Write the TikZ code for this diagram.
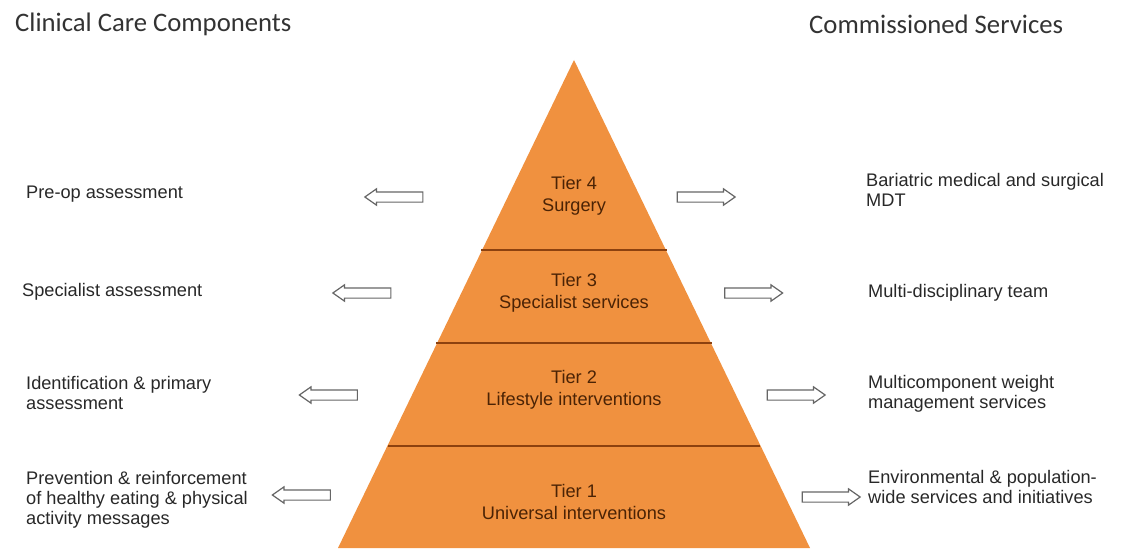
\documentclass[tikz,border=0pt]{standalone}
\usepackage{fontspec}
\setmainfont{Liberation Sans}
\newfontfamily\headfont{Carlito}
\usetikzlibrary{positioning, shapes.arrows}
\definecolor{pyrorange}{RGB}{240,145,63}
\definecolor{pyrline}{RGB}{140,65,15}
\definecolor{pyrtext}{RGB}{75,35,5}
\definecolor{sidegray}{RGB}{40,40,40}

\begin{document}
\begin{tikzpicture}[x=1pt, y=1pt,
tierlabel/.style={align=center, text=pyrtext, font=\fontsize{18.2}{22}\selectfont},
sidetext/.style={anchor=west, align=left, inner sep=0, text=sidegray, font=\fontsize{18.2}{20}\selectfont},
heading/.style={anchor=west, inner sep=0, text=black!80, font=\headfont\fontsize{26.7}{28}\selectfont},
hollow/.style={single arrow, draw=black!60, fill=white, line width=1.2pt, minimum height=58pt, text height=0pt, text depth=0pt, inner xsep=0pt, inner ysep=4.5pt, single arrow head extend=3pt, single arrow tip angle=70}
]
\useasboundingbox (0,0) rectangle (1135,550);

% Headings
\node[heading] (lefthead) at (15,526) {Clinical Care Components};
\node[heading] (righthead) at (809,526) {Commissioned Services};

% Pyramid
\fill[pyrorange] (574,490) -- (810,2) -- (338,2) -- cycle;
\draw[pyrline, line width=2.5pt] (481,300) -- (667,300);
\draw[pyrline, line width=2.5pt] (436,207) -- (712,207);
\draw[pyrline, line width=2.5pt] (388,104) -- (760,104);

\node[tierlabel] (tier4) at (574,354.5) {Tier 4\\Surgery};
\node[tierlabel] (tier3) at (574,257) {Tier 3\\Specialist services};
\node[tierlabel] (tier2) at (574,160) {Tier 2\\Lifestyle interventions};
\node[tierlabel] (tier1) at (574,48.5) {Tier 1\\Universal interventions};

% Clinical care components
\node[sidetext] (care4) at (26,356) {Pre-op assessment};
\node[sidetext] (care3) at (22,258) {Specialist assessment};
\node[sidetext] (care2) at (26,157) {Identification \& primary\\assessment};
\node[sidetext] (care1) at (26,50) {Prevention \& reinforcement\\of healthy eating \& physical\\activity messages};

\node[hollow, shape border rotate=180] (larrow4) at (397.5,353) {};
\node[hollow, shape border rotate=180] (larrow3) at (365.5,257) {};
\node[hollow, shape border rotate=180] (larrow2) at (332,155) {};
\node[hollow, shape border rotate=180] (larrow1) at (305,55) {};

% Commissioned services
\node[sidetext] (serv4) at (866,360) {Bariatric medical and surgical\\MDT};
\node[sidetext] (serv3) at (868,257) {Multi-disciplinary team};
\node[sidetext] (serv2) at (868,156) {Multicomponent weight\\management services};
\node[sidetext] (serv1) at (868,63) {Environmental \& population-\\wide services and initiatives};

\node[hollow] (rarrow4) at (702.5,353) {};
\node[hollow] (rarrow3) at (750,257) {};
\node[hollow] (rarrow2) at (792.5,155) {};
\node[hollow] (rarrow1) at (827.5,53) {};

\end{tikzpicture}
\end{document}
